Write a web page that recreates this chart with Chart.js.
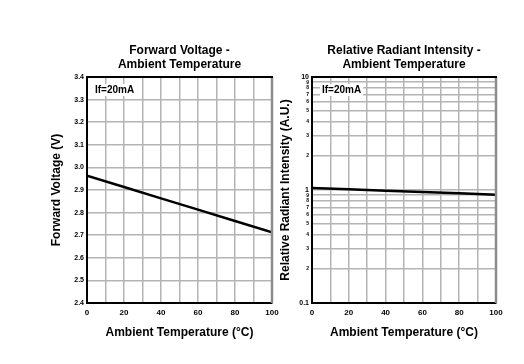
<!DOCTYPE html>
<html>
<head>
<meta charset="utf-8">
<script src="https://cdn.jsdelivr.net/npm/chart.js@4"></script>
<style>
  html, body { margin: 0; padding: 0; background: #fff; }
  body { width: 524px; height: 364px; position: relative; overflow: hidden; }
  canvas { position: absolute; top: 0; }
  #c1 { left: 0; }
  #c2 { left: 272px; }
</style>
</head>
<body>
<canvas id="c1" width="280" height="364"></canvas>
<canvas id="c2" width="252" height="364"></canvas>
<script>
// ---- data ----
const temperatures = [0, 20, 40, 60, 80, 100];
const forwardVoltage = [2.963, 2.913, 2.863, 2.813, 2.763, 2.713];
const radiantIntensity = [1.04, 1.013, 0.987, 0.961, 0.935, 0.91];
const temperatureTicks = [0, 10, 20, 30, 40, 50, 60, 70, 80, 90, 100];
const temperatureTickLabels = ['0', '', '20', '', '40', '', '60', '', '80', '', '100'];
const voltageTicks = [2.4, 2.5, 2.6, 2.7, 2.8, 2.9, 3.0, 3.1, 3.2, 3.3, 3.4];
const voltageTickLabels = ['2.4', '2.5', '2.6', '2.7', '2.8', '2.9', '3.0', '3.1', '3.2', '3.3', '3.4'];
const intensityTicks = [0.1, 0.2, 0.3, 0.4, 0.5, 0.6, 0.7, 0.8, 0.9, 1, 2, 3, 4, 5, 6, 7, 8, 9, 10];
const intensityTickLabels = ['0.1', '2', '3', '4', '5', '6', '7', '8', '9', '1', '2', '3', '4', '5', '6', '7', '8', '9', '10'];
const intensityMajorIndex = [0, 9, 18];
const titles = {
  left: ['Forward Voltage -', 'Ambient Temperature'],
  right: ['Relative Radiant Intensity -', 'Ambient Temperature']
};
const xTitle = 'Ambient Temperature (°C)';
const yTitleLeft = 'Forward Voltage (V)';
const yTitleRight = 'Relative Radiant Intensity (A.U.)';
const conditionLabel = 'If=20mA';

const FONT = "'Liberation Sans', Arial, sans-serif";
const GRID = '#b4b4b4';

Chart.defaults.font.family = FONT;
Chart.defaults.color = '#000';

function frameAndLabel(text, dx) {
  return {
    id: 'frameAndLabel',
    afterDatasetsDraw(chart) {
      const { ctx, chartArea: a } = chart;
      ctx.save();
      // right edge (grey) and top edge (black)
      ctx.strokeStyle = '#8c8c8c';
      ctx.lineWidth = 2.5;
      ctx.beginPath();
      ctx.moveTo(a.right, a.top);
      ctx.lineTo(a.right, a.bottom);
      ctx.stroke();
      ctx.strokeStyle = '#000';
      ctx.lineWidth = 2;
      ctx.beginPath();
      ctx.moveTo(a.left, a.top);
      ctx.lineTo(a.right + 1, a.top);
      ctx.stroke();
      ctx.font = 'bold 10px ' + FONT;
      const w = ctx.measureText(text).width;
      const x = a.left + dx, y = a.top + 13;
      ctx.fillStyle = '#fff';
      ctx.fillRect(x - 2, y - 6, w + 4, 12);
      ctx.fillStyle = '#000';
      ctx.textBaseline = 'middle';
      ctx.fillText(text, x, y);
      ctx.restore();
    }
  };
}

function xScale() {
  return {
    type: 'linear', min: 0, max: 100,
    afterBuildTicks: s => { s.ticks = temperatureTicks.map(v => ({ value: v })); },
    afterFit: s => { s.height = 61; s.paddingLeft = 0; s.paddingRight = 0; },
    grid: { color: GRID, lineWidth: 1.5, drawTicks: false },
    border: { color: '#000', width: 2 },
    ticks: {
      autoSkip: false, maxRotation: 0, padding: 5,
      font: { size: 8, weight: 'bold' },
      callback: (v, i) => temperatureTickLabels[i]
    },
    title: {
      display: true, text: xTitle,
      font: { size: 12, weight: 'bold' },
      padding: { top: 0, bottom: 24 }
    }
  };
}

function titleOpts(lines) {
  return {
    display: true, text: lines, fullSize: false,
    font: { size: 12, weight: 'bold', lineHeight: 14 / 12 },
    color: '#000',
    padding: { top: 10, bottom: 5 }
  };
}

// ---- left chart ----
new Chart(document.getElementById('c1'), {
  type: 'line',
  data: {
    datasets: [{
      data: temperatures.map((t, i) => ({ x: t, y: forwardVoltage[i] })),
      borderColor: '#000', borderWidth: 2.5, pointRadius: 0, tension: 0
    }]
  },
  options: {
    responsive: false, animation: false, devicePixelRatio: 1,
    layout: { padding: { left: 0, right: 8, top: 34, bottom: 0 } },
    plugins: { legend: { display: false }, tooltip: { enabled: false }, title: titleOpts(titles.left) },
    scales: {
      x: xScale(),
      y: {
        type: 'linear', min: 2.4, max: 3.4,
        afterBuildTicks: s => { s.ticks = voltageTicks.map(v => ({ value: v })); },
        afterFit: s => { s.width = 87; s.paddingTop = 0; s.paddingBottom = 0; },
        grid: { color: GRID, lineWidth: 1.5, drawTicks: false },
        border: { color: '#000', width: 2 },
        ticks: {
          autoSkip: false, padding: 3,
          font: { size: 7, weight: 'bold' },
          callback: (v, i) => voltageTickLabels[i]
        },
        title: {
          display: true, text: yTitleLeft,
          font: { size: 12, weight: 'bold' },
          padding: { top: 49, bottom: 0 }
        }
      }
    }
  },
  plugins: [frameAndLabel(conditionLabel, 8)]
});

// ---- right chart ----
new Chart(document.getElementById('c2'), {
  type: 'line',
  data: {
    datasets: [{
      data: temperatures.map((t, i) => ({ x: t, y: radiantIntensity[i] })),
      borderColor: '#000', borderWidth: 2.5, pointRadius: 0, tension: 0
    }]
  },
  options: {
    responsive: false, animation: false, devicePixelRatio: 1,
    layout: { padding: { left: 0, right: 28, top: 34, bottom: 0 } },
    plugins: { legend: { display: false }, tooltip: { enabled: false }, title: titleOpts(titles.right) },
    scales: {
      x: xScale(),
      y: {
        type: 'logarithmic', min: 0.1, max: 10,
        afterBuildTicks: s => { s.ticks = intensityTicks.map(v => ({ value: v })); },
        afterFit: s => { s.width = 40; s.paddingTop = 0; s.paddingBottom = 0; },
        grid: { color: GRID, lineWidth: 1.5, drawTicks: false },
        border: { color: '#000', width: 2 },
        ticks: {
          autoSkip: false, padding: 3,
          font: c => ({ size: intensityMajorIndex.includes(c.index) ? 7 : 5, weight: 'bold' }),
          callback: (v, i) => intensityTickLabels[i]
        },
        title: {
          display: true, text: yTitleRight,
          font: { size: 12, weight: 'bold' },
          padding: { top: 6, bottom: 0 }
        }
      }
    }
  },
  plugins: [frameAndLabel(conditionLabel, 10)]
});
</script>
</body>
</html>
